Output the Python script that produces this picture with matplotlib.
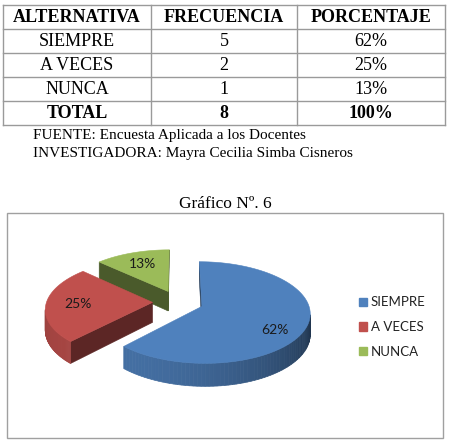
import numpy as np
import matplotlib
matplotlib.use("Agg")
import matplotlib.pyplot as plt
from matplotlib.patches import Polygon, Rectangle, Patch

# ---- data ----
alternativas = ["SIEMPRE", "A VECES", "NUNCA"]
frecuencia = [5, 2, 1]
porcentaje = [62, 25, 13]
encabezado = ["ALTERNATIVA", "FRECUENCIA", "PORCENTAJE"]
colores = ["#4F81BD", "#C0504D", "#9BBB59"]

fig = plt.figure(figsize=(4.5, 4.42), dpi=100)
ax = fig.add_axes([0, 0, 1, 1])
ax.set_xlim(0, 450)
ax.set_ylim(442, 0)
ax.axis("off")

serif = "Liberation Serif"
sans = "Lato"

# ---- table ----
col_x = [3, 151, 297, 445]
row_y = [5, 29, 53, 77, 101, 125]
line_c = "#9a9a9a"
for x in col_x:
    ax.plot([x, x], [row_y[0], row_y[-1]], color=line_c, lw=1)
for y in row_y:
    ax.plot([col_x[0], col_x[-1]], [y, y], color=line_c, lw=1)

cx_cols = [(col_x[i] + col_x[i + 1]) / 2 for i in range(3)]
cy_rows = [(row_y[i] + row_y[i + 1]) / 2 for i in range(5)]

filas = [encabezado]
for a, f, p in zip(alternativas, frecuencia, porcentaje):
    filas.append([a, str(f), f"{p}%"])
filas.append(["TOTAL", str(sum(frecuencia)), f"{sum(porcentaje)}%"])

for r, fila in enumerate(filas):
    bold = r == 0 or r == len(filas) - 1
    for c, txt in enumerate(fila):
        ax.text(cx_cols[c], cy_rows[r] + 1, txt, ha="center", va="center",
                family=serif, fontsize=13, weight="bold" if bold else "normal",
                color="black")

ax.text(33, 135, "FUENTE: Encuesta Aplicada a los Docentes", ha="left", va="center",
        family=serif, fontsize=11)
ax.text(33, 153, "INVESTIGADORA: Mayra Cecilia Simba Cisneros", ha="left", va="center",
        family=serif, fontsize=11)

ax.text(225, 204, "Gráfico Nº. 6", ha="center", va="center", family=serif, fontsize=12.5)

# chart frame
ax.add_patch(Rectangle((7, 213), 436, 225, fill=False, edgecolor="#a0a0a0", lw=1))

# ---- 3D exploded pie ----
cx, cy = 178, 302
rx, ry = 106, 49
h = 20
persp = 0.12
expl = 0.24


def proj(u, v, z):
    s = 1.0 / (1.0 + persp * v)
    return cx + rx * u * s, cy - ry * v * s + h * z * s


def area(pts):
    x = np.array([p[0] for p in pts])
    y = np.array([p[1] for p in pts])
    return np.sum(x * np.roll(y, -1) - np.roll(x, -1) * y)


def shade(color, f):
    rgb = np.array(matplotlib.colors.to_rgb(color)) * f
    return tuple(np.clip(rgb, 0, 1))


spans = []
cur = 90.0
for p in porcentaje:
    a2 = cur
    a1 = cur - p / sum(porcentaje) * 360.0
    spans.append((a1, a2))
    cur = a1

for i in [2, 1, 0]:
    a1, a2 = spans[i]
    mid = np.radians((a1 + a2) / 2)
    ox, oy = expl * np.cos(mid), expl * np.sin(mid)
    th = np.radians(np.linspace(a1, a2, 120))
    au = ox + np.cos(th)
    av = oy + np.sin(th)
    col = colores[i]

    tip_t = proj(ox, oy, 0)
    tip_b = proj(ox, oy, 1)
    faces = [
        [tip_t, proj(au[0], av[0], 0), proj(au[0], av[0], 1), tip_b],
        [proj(au[-1], av[-1], 0), tip_t, tip_b, proj(au[-1], av[-1], 1)],
    ]
    for f in faces:
        if area(f) > 0:
            ax.add_patch(Polygon(f, closed=True, facecolor=shade(col, 0.48),
                                 edgecolor=shade(col, 0.48), lw=0.4))

    for k in range(len(th) - 1):
        q = [proj(au[k], av[k], 0), proj(au[k + 1], av[k + 1], 0),
             proj(au[k + 1], av[k + 1], 1), proj(au[k], av[k], 1)]
        if area(q) > 0:
            tm = (th[k] + th[k + 1]) / 2
            fac = 0.58 + 0.28 * np.cos(tm - np.radians(225))
            ax.add_patch(Polygon(q, closed=True, facecolor=shade(col, fac),
                                 edgecolor=shade(col, fac), lw=0.5))

    top = [tip_t] + [proj(u, v, 0) for u, v in zip(au, av)]
    ax.add_patch(Polygon(top, closed=True, facecolor=col, edgecolor=col, lw=0.4))

    lr = 0.7
    drop = -1.3 * min(0.0, np.sin(mid))
    lx, ly = proj(ox + lr * np.cos(mid), oy + lr * np.sin(mid), drop)
    ax.text(lx, ly, f"{porcentaje[i]}%", ha="center", va="center",
            family=sans, fontsize=10, color="#1a1a1a")

handles = [Patch(facecolor=c, edgecolor=c) for c in colores]
ax.legend(handles, alternativas, loc="center left", bbox_to_anchor=(347, 327),
          bbox_transform=ax.transData, frameon=False, handlelength=0.6,
          handleheight=0.6, handletextpad=0.3, labelspacing=0.95,
          prop={"family": sans, "size": 9.5}, labelcolor="#222222")

fig.savefig("out.png", dpi=100)
